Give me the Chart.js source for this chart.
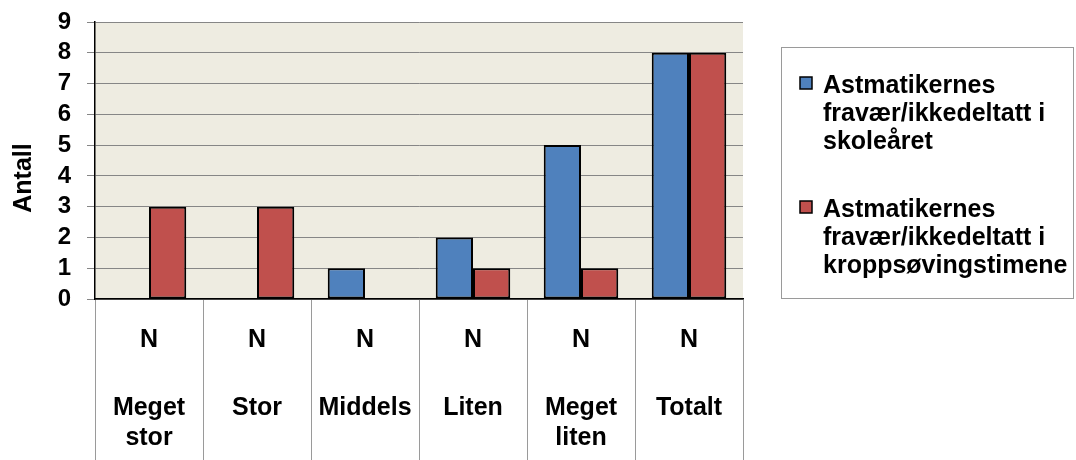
<!DOCTYPE html>
<html>
<head>
<meta charset="utf-8">
<script src="https://cdn.jsdelivr.net/npm/chart.js@4/dist/chart.umd.min.js"></script>
<style>
  html, body { margin: 0; padding: 0; background: #ffffff; }
  #wrap { width: 1076px; height: 460px; position: relative; }
</style>
</head>
<body>
<div id="wrap"><canvas id="c" width="1076" height="460"></canvas></div>
<script>
// Categories (each name split into its display lines) and the row header shown above them
const categories = ['Meget stor', 'Stor', 'Middels', 'Liten', 'Meget liten', 'Totalt'];
const categoryLines = [['Meget', 'stor'], ['Stor'], ['Middels'], ['Liten'], ['Meget', 'liten'], ['Totalt']];
const rowHeader = 'N';

// Series
const seriesNames = [
  ['Astmatikernes', 'fravær/ikkedeltatt i', 'skoleåret'],
  ['Astmatikernes', 'fravær/ikkedeltatt i', 'kroppsøvingstimene']
];
const skoleaaret = [0, 0, 1, 2, 5, 8];
const kroppsoving = [3, 3, 0, 1, 1, 8];

// Value axis
const yTicks = [0, 1, 2, 3, 4, 5, 6, 7, 8, 9];
const yTitle = 'Antall';

const FONT = "'Liberation Sans', Arial, sans-serif";
const BLUE = '#4F81BD';
const RED = '#C0504D';

// Plot background and annotations drawn around the chart area
const decorations = {
  id: 'decorations',
  beforeDraw(chart) {
    const { ctx, chartArea: a } = chart;
    ctx.save();
    ctx.fillStyle = '#EEECE1';
    ctx.fillRect(a.left, a.top, a.right - a.left, a.bottom - a.top);
    ctx.restore();
  },
  afterDraw(chart) {
    const { ctx } = chart;
    const x = chart.scales.x;
    ctx.save();
    ctx.fillStyle = '#000';
    ctx.textAlign = 'center';
    ctx.textBaseline = 'alphabetic';
    ctx.font = 'bold 25px ' + FONT;

    // Category table under the axis
    categoryLines.forEach((lines, i) => {
      const cx = x.getPixelForValue(i);
      ctx.fillText(rowHeader, cx, 347);
      lines.forEach((ln, j) => ctx.fillText(ln, cx, 415 + j * 30));
    });

    // Axis title
    ctx.save();
    ctx.translate(31, 178);
    ctx.rotate(-Math.PI / 2);
    ctx.fillText(yTitle, 0, 0);
    ctx.restore();

    // Legend box
    ctx.strokeStyle = '#9a9a9a';
    ctx.lineWidth = 1;
    ctx.strokeRect(781.5, 47.5, 292, 251);
    ctx.textAlign = 'left';
    const tops = [93, 217];
    chart.data.datasets.forEach((ds, k) => {
      const base = tops[k];
      ctx.fillStyle = ds.backgroundColor;
      ctx.fillRect(800, base - 16, 12, 12);
      ctx.strokeStyle = '#000';
      ctx.lineWidth = 1.5;
      ctx.strokeRect(800, base - 16, 12, 12);
      ctx.fillStyle = '#000';
      seriesNames[k].forEach((ln, j) => ctx.fillText(ln, 823, base + j * 28));
    });
    ctx.restore();
  }
};

new Chart(document.getElementById('c'), {
  type: 'bar',
  data: {
    labels: categories,
    datasets: [
      {
        label: seriesNames[0].join(' '),
        data: skoleaaret,
        backgroundColor: BLUE,
        borderColor: '#000',
        borderWidth: 2,
        borderSkipped: false
      },
      {
        label: seriesNames[1].join(' '),
        data: kroppsoving,
        backgroundColor: RED,
        borderColor: '#000',
        borderWidth: 2,
        borderSkipped: false
      }
    ]
  },
  options: {
    responsive: false,
    animation: false,
    devicePixelRatio: 1,
    layout: { padding: { left: 0, right: 333, top: 22, bottom: 0 } },
    datasets: { bar: { categoryPercentage: 0.69, barPercentage: 1.0 } },
    plugins: {
      legend: { display: false },
      tooltip: { enabled: false },
      title: { display: false }
    },
    scales: {
      x: {
        offset: true,
        grid: {
          offset: true,
          drawOnChartArea: false,
          drawTicks: true,
          tickLength: 161,
          color: '#9a9a9a',
          lineWidth: 1
        },
        border: { display: true, color: '#000', width: 1.5 },
        ticks: { display: false },
        afterFit(scale) { scale.height = 161; }
      },
      y: {
        min: 0,
        max: 9,
        afterBuildTicks(scale) { scale.ticks = yTicks.map(v => ({ value: v })); },
        grid: {
          color: '#868686',
          lineWidth: 1,
          drawTicks: true,
          tickLength: 8
        },
        border: { display: true, color: '#000', width: 1.5 },
        ticks: {
          color: '#000',
          padding: 16,
          autoSkip: false,
          font: { family: FONT, size: 24, weight: 'bold' }
        },
        afterFit(scale) {
          scale.width = 95;
          scale.paddingTop = 0;
          scale.paddingBottom = 0;
        }
      }
    }
  },
  plugins: [decorations]
});
</script>
</body>
</html>
